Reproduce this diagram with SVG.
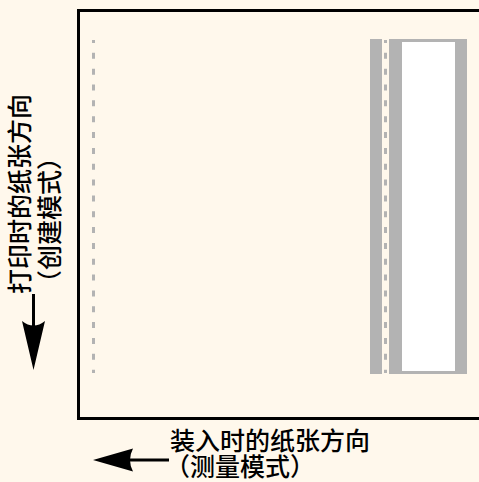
<svg xmlns="http://www.w3.org/2000/svg" width="479" height="482" viewBox="0 0 479 482">
<style>
.lbl{font-family:"Noto Sans CJK SC","Noto Sans",sans-serif;font-size:25px;font-weight:500;fill:#000}
.dash{stroke:#b3b3b3;stroke-width:3;stroke-dasharray:6 9.84;stroke-dashoffset:3;fill:none}
.gray{fill:#b3b3b3}
.arrow{stroke:#000;stroke-width:3;fill:none}
</style>
<rect x="0" y="0" width="479" height="482" fill="#fff8ec"/>
<g id="frame">
<rect x="78.5" y="10.5" width="420" height="408" fill="none" stroke="#000" stroke-width="3"/>
</g>
<g id="left-guide">
<line class="dash" x1="93.5" y1="40" x2="93.5" y2="373"/>
</g>
<g id="paper">
<rect class="gray" x="370" y="39" width="12" height="335"/>
<rect class="gray" x="389" y="39" width="78" height="335"/>
<rect x="402" y="42" width="53" height="329" fill="#fff"/>
<line class="dash" x1="385.5" y1="40" x2="385.5" y2="373"/>
</g>
<g id="label-print">
<text class="lbl" transform="translate(29,294) rotate(-90)">打印时的纸张方向</text>
<text class="lbl" transform="translate(59,295) rotate(-90)">（创建模式）</text>
</g>
<g id="label-load">
<text class="lbl" x="170" y="450">装入时的纸张方向</text>
<text class="lbl" x="165" y="476">（测量模式）</text>
</g>
<g id="connectors">
<line class="arrow" x1="33.5" y1="294" x2="33.5" y2="330"/>
<path d="M33.5,370 L22,321 Q33.5,330 45,321 Z" fill="#000"/>
<line class="arrow" x1="169" y1="460" x2="128" y2="460"/>
<path d="M93,460 L133,448.5 Q127,460 133,471.5 Z" fill="#000"/>
</g>
</svg>
